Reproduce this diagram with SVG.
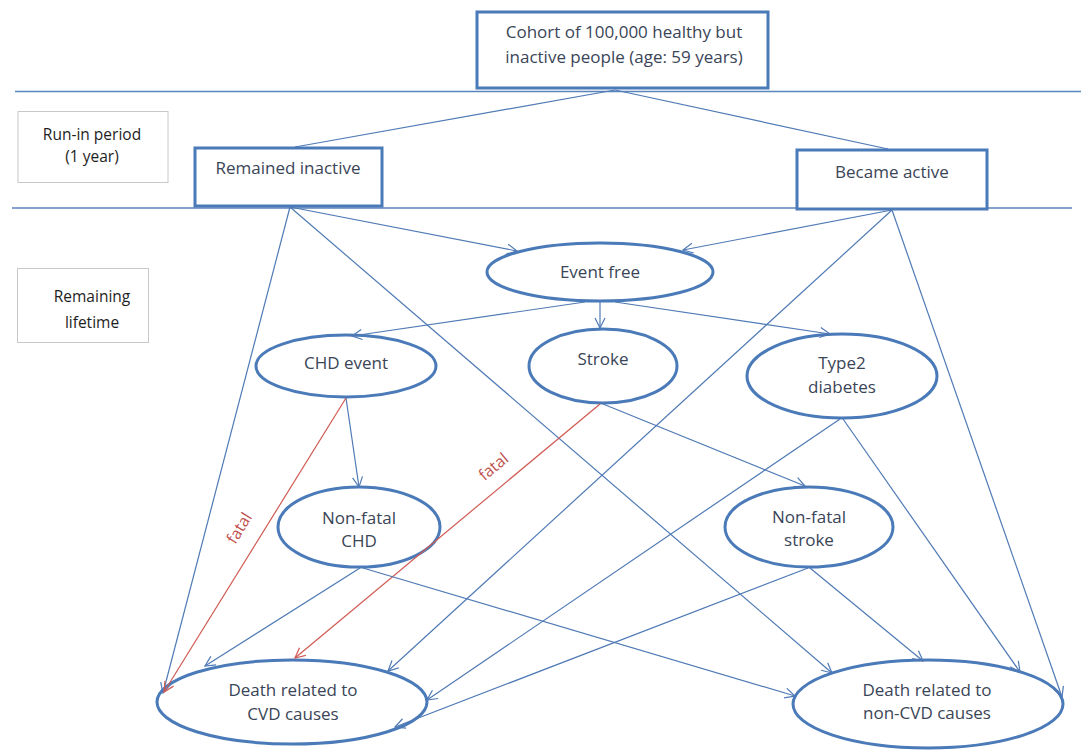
<svg xmlns="http://www.w3.org/2000/svg" width="1081" height="754" viewBox="0 0 1081 754">
<style>
  .box{fill:#fff;stroke:#4a7ab8;stroke-width:3}
  .side{fill:#fff;stroke:#c8c8c8;stroke-width:1}
  .ell{fill:#fff;stroke:#4a7ab8;stroke-width:3}
  .t{font-family:"Open Sans","Liberation Sans",sans-serif;font-size:17px;fill:#3a4557;text-anchor:middle}
  .ts{font-family:"Open Sans","Liberation Sans",sans-serif;font-size:15.5px;fill:#1e1e1e;text-anchor:middle}
  .c{stroke:#4f7ab5;stroke-width:1.2;fill:none;marker-end:url(#ab)}
  .cn{stroke:#4f7ab5;stroke-width:1.2;fill:none}
  .r{stroke:#cf5a52;stroke-width:1.2;fill:none;marker-end:url(#ar)}
  .hl{stroke:#5a84bb;stroke-width:1.3}
  .fl{font-family:"Open Sans","Liberation Sans",sans-serif;font-size:16px;fill:#c0504d;text-anchor:middle}
</style>
<defs>
  <marker id="ab" markerUnits="userSpaceOnUse" markerWidth="13" markerHeight="13" refX="11" refY="5.5" orient="auto" viewBox="0 0 13 13">
    <path d="M1,0.5 L11,5.5 L1,10.5" fill="none" stroke="#4f7ab5" stroke-width="1.2"/>
  </marker>
  <marker id="ar" markerUnits="userSpaceOnUse" markerWidth="13" markerHeight="13" refX="11" refY="5.5" orient="auto" viewBox="0 0 13 13">
    <path d="M1,0.5 L11,5.5 L1,10.5" fill="none" stroke="#cf5a52" stroke-width="1.2"/>
  </marker>
</defs>
<rect width="1081" height="754" fill="#fff"/>

<g id="bands">
  <line class="hl" x1="15" y1="91.5" x2="1081" y2="91.5"/>
  <line class="hl" x1="12" y1="208" x2="1072" y2="208"/>
</g>

<g id="cohort">
  <rect class="box" x="477" y="12" width="291" height="76"/>
  <text class="t" x="624" y="38">Cohort of 100,000 healthy but</text>
  <text class="t" x="624" y="63">inactive people (age: 59 years)</text>
</g>

<g id="runin">
  <rect class="side" x="18" y="111.5" width="150" height="71"/>
  <text class="ts" x="92" y="140">Run-in period</text>
  <text class="ts" x="92" y="162">(1 year)</text>
</g>

<g id="remaining">
  <rect class="side" x="17.5" y="268.5" width="131" height="74"/>
  <text class="ts" x="92" y="302">Remaining</text>
  <text class="ts" x="92" y="328">lifetime</text>
</g>

<g id="inactive">
  <rect class="box" x="195" y="148" width="187" height="58"/>
  <text class="t" x="288" y="174">Remained inactive</text>
</g>

<g id="active">
  <rect class="box" x="797" y="150" width="190" height="59"/>
  <text class="t" x="892" y="178">Became active</text>
</g>

<g id="eventfree">
  <ellipse class="ell" cx="600" cy="272" rx="113" ry="29"/>
  <text class="t" x="600" y="278">Event free</text>
</g>

<g id="chd">
  <ellipse class="ell" cx="346" cy="366" rx="90" ry="31"/>
  <text class="t" x="346" y="369">CHD event</text>
</g>

<g id="stroke">
  <ellipse class="ell" cx="603" cy="366" rx="74" ry="37"/>
  <text class="t" x="603" y="365">Stroke</text>
</g>

<g id="diabetes">
  <ellipse class="ell" cx="842" cy="376" rx="95" ry="42"/>
  <text class="t" x="842" y="369">Type2</text>
  <text class="t" x="842" y="393">diabetes</text>
</g>

<g id="nfchd">
  <ellipse class="ell" cx="359" cy="527" rx="81" ry="40"/>
  <text class="t" x="359" y="524">Non-fatal</text>
  <text class="t" x="359" y="547">CHD</text>
</g>

<g id="nfstroke">
  <ellipse class="ell" cx="809" cy="527" rx="84" ry="40"/>
  <text class="t" x="809" y="523">Non-fatal</text>
  <text class="t" x="809" y="546">stroke</text>
</g>

<g id="deathcvd">
  <ellipse class="ell" cx="292" cy="702" rx="135" ry="42"/>
  <text class="t" x="293" y="696">Death related to</text>
  <text class="t" x="293" y="720">CVD causes</text>
</g>

<g id="deathnoncvd">
  <ellipse class="ell" cx="928" cy="704" rx="135" ry="44"/>
  <text class="t" x="927" y="696">Death related to</text>
  <text class="t" x="927" y="719">non-CVD causes</text>
</g>

<g id="connectors">
  <line class="cn" x1="615" y1="90" x2="295" y2="147"/>
  <line class="cn" x1="615" y1="90" x2="888" y2="149"/>
  <line class="c" x1="290" y1="207" x2="517" y2="251"/>
  <line class="c" x1="290" y1="207" x2="163" y2="693"/>
  <line class="c" x1="290" y1="207" x2="832" y2="673"/>
  <line class="c" x1="892" y1="210" x2="683" y2="250"/>
  <line class="c" x1="892" y1="210" x2="388" y2="671"/>
  <line class="c" x1="892" y1="210" x2="1062" y2="697"/>
  <line class="c" x1="585" y1="302" x2="352" y2="336"/>
  <line class="c" x1="600" y1="302" x2="600" y2="328"/>
  <line class="c" x1="615" y1="302" x2="830" y2="334"/>
  <line class="c" x1="346" y1="398" x2="359" y2="487"/>
  <line class="r" x1="346" y1="398" x2="164" y2="692"/>
  <line class="r" x1="600" y1="404" x2="295" y2="658"/>
  <line class="c" x1="603" y1="404" x2="805" y2="486"/>
  <line class="c" x1="840" y1="419" x2="427" y2="700"/>
  <line class="c" x1="843" y1="419" x2="1020" y2="672"/>
  <line class="c" x1="360" y1="568" x2="205" y2="666"/>
  <line class="c" x1="363" y1="568" x2="795" y2="696"/>
  <line class="c" x1="808" y1="568" x2="395" y2="727"/>
  <line class="c" x1="810" y1="568" x2="923" y2="661"/>
  <text class="fl" x="0" y="0" transform="translate(244 531) rotate(-58)">fatal</text>
  <text class="fl" x="0" y="0" transform="translate(497 471) rotate(-40)">fatal</text>
</g>
</svg>
